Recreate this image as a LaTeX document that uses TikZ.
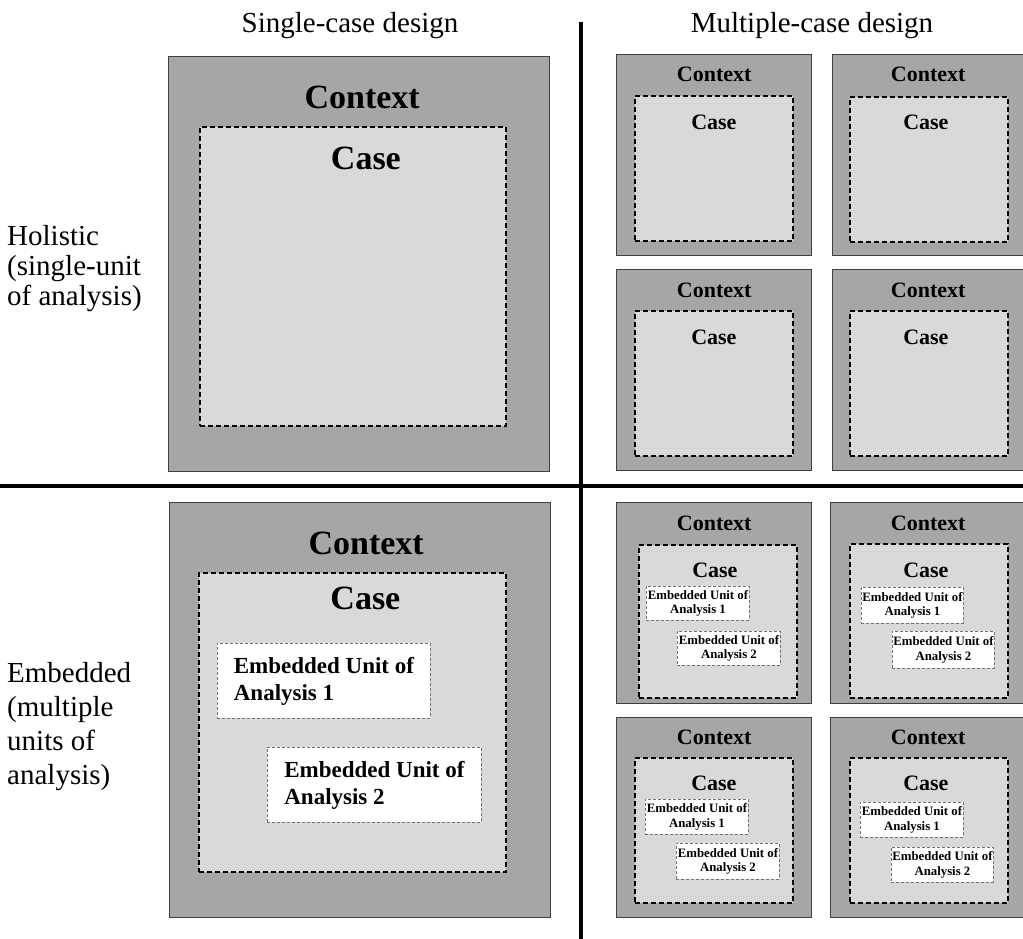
\documentclass[tikz,border=0pt]{standalone}
\usepackage{fontspec}
\setmainfont{Liberation Serif}
\usetikzlibrary{calc}

\definecolor{ctxgray}{HTML}{A6A6A6}
\definecolor{casegray}{HTML}{D9D9D9}
\definecolor{rimgray}{HTML}{404040}

\begin{document}
\begin{tikzpicture}[x=1pt,y=-1pt,
  ctxbox/.style={draw=rimgray, line width=1.3pt, fill=ctxgray, rectangle, anchor=north west, inner sep=0pt},
  casebox/.style={draw=black, line width=1.8pt, dash pattern=on 5pt off 3pt, fill=casegray, rectangle, anchor=north west, inner sep=0pt},
  unitbox/.style={draw=black!55, line width=0.9pt, dash pattern=on 3pt off 2pt, fill=white, rectangle, anchor=north west, inner sep=0pt, align=left, font=\bfseries\fontsize{23}{27}\selectfont},
  smallunit/.style={unitbox, align=center, font=\bfseries\fontsize{12.8}{14.4}\selectfont},
  bigtxt/.style={inner sep=0pt, font=\bfseries\fontsize{34}{40}\selectfont},
  smalltxt/.style={inner sep=0pt, font=\bfseries\fontsize{22}{26}\selectfont},
  headtxt/.style={inner sep=0pt, anchor=base, font=\fontsize{29}{30}\selectfont},
  sidetxt/.style={inner sep=0pt, anchor=west, align=left, font=\fontsize{29}{30}\selectfont},
  divider/.style={line width=4pt}]

     \useasboundingbox (0,0) rectangle (1023,939);

     \node[headtxt] (single) at (350,33) {Single-case design};
     \node[headtxt] (multi) at (812,33) {Multiple-case design};
     \node[sidetxt] (holistic) at (7,269) {Holistic\\(single-unit\\of analysis)};
     \node[sidetxt, font=\fontsize{29}{34}\selectfont] (embedded) at (7,727) {Embedded\\(multiple\\units of\\analysis)};

     % single-case, holistic
     \node[ctxbox, minimum width=381pt, minimum height=415pt] (hsctx) at (168,56) {};
     \node[casebox, minimum width=306pt, minimum height=299pt] (hscase) at (199,126) {};
     \node[bigtxt] (hsctxt) at ($(hsctx.north)+(3,41)$) {Context};
     \node[bigtxt] (hscaset) at ($(hscase.north)+(13,32)$) {Case};

     % single-case, embedded
     \node[ctxbox, minimum width=381pt, minimum height=415pt] (esctx) at (169,502) {};
     \node[casebox, minimum width=307pt, minimum height=299pt] (escase) at (198,572) {};
     \node[bigtxt] (esctxt) at ($(esctx.north)+(6,41)$) {Context};
     \node[bigtxt] (escaset) at ($(escase.north)+(13,26)$) {Case};
     \node[unitbox, minimum width=213pt, minimum height=75pt] (esunit1) at (217,643) {Embedded Unit of\\Analysis 1};
     \node[unitbox, minimum width=214pt, minimum height=75pt] (esunit2) at (267,747) {Embedded Unit of\\Analysis 2};

     % multiple-case, holistic
     \node[ctxbox, minimum width=195pt, minimum height=201pt] (hmctx1) at (616,54) {};
     \node[casebox, minimum width=158pt, minimum height=145pt] (hmcase1) at (634,95) {};
     \node[smalltxt] (hmctxt1) at ($(hmctx1.north)+(0,20)$) {Context};
     \node[smalltxt] (hmcaset1) at ($(hmcase1.north)+(0,27)$) {Case};

     \node[ctxbox, minimum width=195pt, minimum height=201pt] (hmctx2) at (832,54) {};
     \node[casebox, minimum width=158pt, minimum height=145pt] (hmcase2) at (849,96) {};
     \node[smalltxt] (hmctxt2) at ($(hmctx2.north)+(-2,20)$) {Context};
     \node[smalltxt] (hmcaset2) at ($(hmcase2.north)+(-3,26)$) {Case};

     \node[ctxbox, minimum width=195pt, minimum height=201pt] (hmctx3) at (616,269) {};
     \node[casebox, minimum width=158pt, minimum height=145pt] (hmcase3) at (634,310) {};
     \node[smalltxt] (hmctxt3) at ($(hmctx3.north)+(0,21)$) {Context};
     \node[smalltxt] (hmcaset3) at ($(hmcase3.north)+(0,27)$) {Case};

     \node[ctxbox, minimum width=195pt, minimum height=201pt] (hmctx4) at (832,269) {};
     \node[casebox, minimum width=158pt, minimum height=145pt] (hmcase4) at (849,310) {};
     \node[smalltxt] (hmctxt4) at ($(hmctx4.north)+(-2,21)$) {Context};
     \node[smalltxt] (hmcaset4) at ($(hmcase4.north)+(-3,27)$) {Case};

     % multiple-case, embedded
     \node[ctxbox, minimum width=195pt, minimum height=201pt] (emctx1) at (616,502) {};
     \node[casebox, minimum width=158pt, minimum height=153pt] (emcase1) at (638,544) {};
     \node[smalltxt] (emctxt1) at ($(emctx1.north)+(0,21)$) {Context};
     \node[smalltxt] (emcaset1) at ($(emcase1.north)+(-3,26)$) {Case};
     \node[smallunit, minimum width=103pt, minimum height=34pt] (emunit1a) at (646,586) {Embedded Unit of\\Analysis 1};
     \node[smallunit, minimum width=103pt, minimum height=34pt] (emunit1b) at (677,631) {Embedded Unit of\\Analysis 2};

     \node[ctxbox, minimum width=195pt, minimum height=201pt] (emctx2) at (830,502) {};
     \node[casebox, minimum width=158pt, minimum height=154pt] (emcase2) at (849,543) {};
     \node[smalltxt] (emctxt2) at ($(emctx2.north)+(0,21)$) {Context};
     \node[smalltxt] (emcaset2) at ($(emcase2.north)+(-3,27)$) {Case};
     \node[smallunit, minimum width=102pt, minimum height=36pt] (emunit2a) at (861,587) {Embedded Unit of\\Analysis 1};
     \node[smallunit, minimum width=102pt, minimum height=37pt] (emunit2b) at (892,631) {Embedded Unit of\\Analysis 2};

     \node[ctxbox, minimum width=195pt, minimum height=200pt] (emctx3) at (616,717) {};
     \node[casebox, minimum width=158pt, minimum height=145pt] (emcase3) at (634,757) {};
     \node[smalltxt] (emctxt3) at ($(emctx3.north)+(0,20)$) {Context};
     \node[smalltxt] (emcaset3) at ($(emcase3.north)+(0,26)$) {Case};
     \node[smallunit, minimum width=103pt, minimum height=35pt] (emunit3a) at (645,799) {Embedded Unit of\\Analysis 1};
     \node[smallunit, minimum width=103pt, minimum height=36pt] (emunit3b) at (676,843) {Embedded Unit of\\Analysis 2};

     \node[ctxbox, minimum width=195pt, minimum height=200pt] (emctx4) at (830,717) {};
     \node[casebox, minimum width=158pt, minimum height=145pt] (emcase4) at (849,757) {};
     \node[smalltxt] (emctxt4) at ($(emctx4.north)+(0,20)$) {Context};
     \node[smalltxt] (emcaset4) at ($(emcase4.north)+(-3,26)$) {Case};
     \node[smallunit, minimum width=103pt, minimum height=35pt] (emunit4a) at (860,802) {Embedded Unit of\\Analysis 1};
     \node[smallunit, minimum width=102pt, minimum height=35pt] (emunit4b) at (891,847) {Embedded Unit of\\Analysis 2};

     \coordinate (vtop) at (581,22);
     \coordinate (vbot) at (581,945);
     \coordinate (hleft) at (-5,486);
     \coordinate (hright) at (1030,486);
     \draw[divider] (vtop) -- (vbot);
     \draw[divider] (hleft) -- (hright);

\end{tikzpicture}
\end{document}
